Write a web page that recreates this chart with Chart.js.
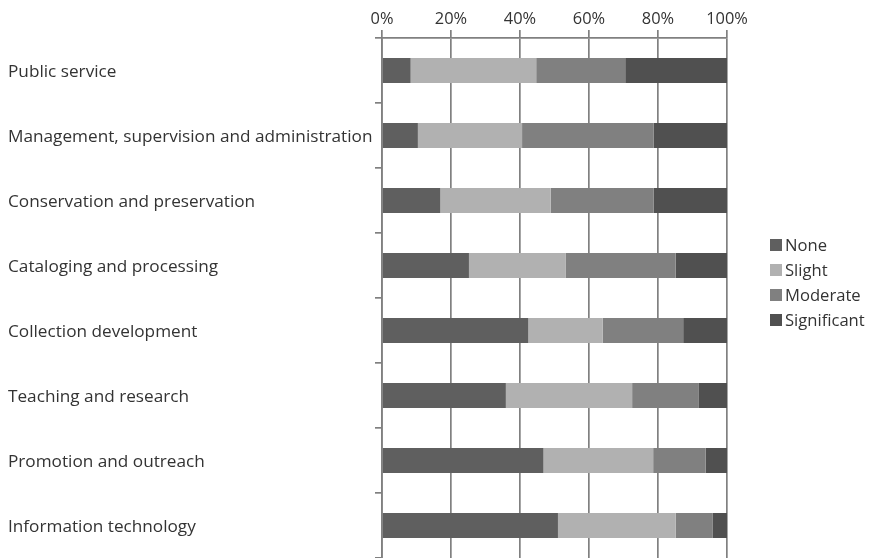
<!DOCTYPE html>
<html>
<head>
<meta charset="utf-8">
<script src="https://cdn.jsdelivr.net/npm/chart.js@4.4.1/dist/chart.umd.min.js"></script>
<style>
  html, body { margin: 0; padding: 0; background: #ffffff; }
  #wrap { width: 875px; height: 558px; position: relative; }
</style>
</head>
<body>
<div id="wrap"><canvas id="c"></canvas></div>
<script>
const categories = [
  "Public service",
  "Management, supervision and administration",
  "Conservation and preservation",
  "Cataloging and processing",
  "Collection development",
  "Teaching and research",
  "Promotion and outreach",
  "Information technology"
];
const seriesNames = ["None", "Slight", "Moderate", "Significant"];
const noneVals        = [8.3, 10.4, 16.9, 25.2, 42.4, 35.9, 46.8, 51.0];
const slightVals      = [36.4, 30.2, 32.0, 28.1, 21.6, 36.6, 31.8, 34.1];
const moderateVals    = [25.8, 38.1, 29.8, 31.8, 23.3, 19.2, 15.2, 10.8];
const significantVals = [29.5, 21.3, 21.3, 14.9, 12.7, 8.3, 6.2, 4.1];
const tickValues = [0, 20, 40, 60, 80, 100];
const seriesColors = ["#5f5f5f", "#b1b1b1", "#808080", "#505050"];

const FONT = "'Open Sans', sans-serif";
const TEXT = "#333333";

const legendPlugin = {
  id: 'sideLegend',
  afterDraw(chart) {
    const ctx = chart.ctx;
    ctx.save();
    ctx.font = "16.6px " + FONT;
    ctx.textBaseline = 'middle';
    ctx.textAlign = 'left';
    chart.data.datasets.forEach((ds, i) => {
      const cy = 245 + i * 25;
      ctx.fillStyle = ds.backgroundColor;
      ctx.fillRect(770, cy - 6, 12, 12);
      ctx.fillStyle = TEXT;
      ctx.fillText(ds.label, 785, cy + 1);
    });
    ctx.restore();
  }
};

const valueSets = [noneVals, slightVals, moderateVals, significantVals];

new Chart(document.getElementById('c'), {
  type: 'bar',
  data: {
    labels: categories,
    datasets: seriesNames.map((name, i) => ({
      label: name,
      data: valueSets[i],
      backgroundColor: seriesColors[i],
      borderWidth: 0,
      categoryPercentage: 1,
      barPercentage: 0.385
    }))
  },
  options: {
    indexAxis: 'y',
    responsive: true,
    maintainAspectRatio: false,
    animation: false,
    layout: { padding: { left: 8, right: 148, top: 8, bottom: 0 } },
    plugins: {
      legend: { display: false },
      tooltip: { enabled: false }
    },
    scales: {
      x: {
        position: 'top',
        stacked: true,
        min: 0,
        max: 100,
        afterBuildTicks(scale) {
          scale.ticks = tickValues.map(v => ({ value: v }));
        },
        afterFit(scale) { scale.height = 30; },
        ticks: {
          padding: 1,
          color: TEXT,
          font: { family: FONT, size: 16.4 },
          callback: v => v + '%'
        },
        grid: {
          color: '#808080',
          lineWidth: 1.7,
          tickLength: 8,
          drawTicks: true
        },
        border: { display: true, color: '#808080', width: 1.7 }
      },
      y: {
        stacked: true,
        afterFit(scale) {
          scale.width = 374;
          scale.paddingTop = 0;
          scale.paddingBottom = 0;
        },
        ticks: {
          crossAlign: 'far',
          labelOffset: 2,
          color: TEXT,
          font: { family: FONT, size: 17.2 }
        },
        grid: {
          drawOnChartArea: false,
          drawTicks: true,
          tickLength: 7,
          color: '#808080',
          lineWidth: 1.7
        },
        border: { display: true, color: '#808080', width: 1.7 }
      }
    }
  },
  plugins: [legendPlugin]
});
</script>
</body>
</html>
